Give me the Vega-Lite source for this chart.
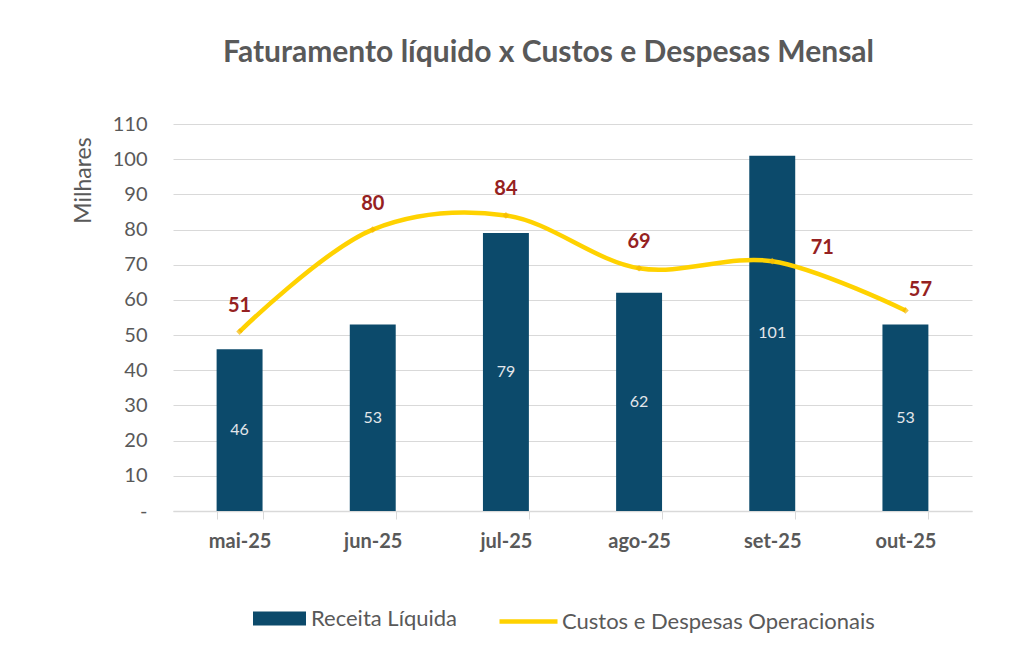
{
  "$schema": "https://vega.github.io/schema/vega-lite/v6.json",
  "width": 799,
  "height": 387,
  "autosize": {"type": "none"},
  "padding": {"left": 173, "top": 124, "right": 56, "bottom": 143},
  "background": "white",
  "config": {
    "font": "Lato",
    "view": {"stroke": null}
  },
  "title": {
    "text": "Faturamento líquido x Custos e Despesas Mensal",
    "font": "Lato",
    "fontSize": 30,
    "fontWeight": "bold",
    "color": "#595959",
    "anchor": "middle",
    "dx": -24,
    "offset": 46
  },
  "data": {
    "values": [
      {"mes": "mai-25", "receita": 46, "custos": 51},
      {"mes": "jun-25", "receita": 53, "custos": 80},
      {"mes": "jul-25", "receita": 79, "custos": 84},
      {"mes": "ago-25", "receita": 62, "custos": 69},
      {"mes": "set-25", "receita": 101, "custos": 71},
      {"mes": "out-25", "receita": 53, "custos": 57}
    ]
  },
  "encoding": {
    "x": {
      "field": "mes",
      "type": "ordinal",
      "sort": null,
      "scale": {"paddingInner": 0.655, "paddingOuter": 0.3275},
      "axis": {
        "title": null,
        "labelAngle": 0,
        "labelFontSize": 20,
        "labelFontWeight": "bold",
        "labelColor": "#595959",
        "labelPadding": 12,
        "tickBand": "extent",
        "tickSize": 8,
        "tickColor": "#D9D9D9",
        "domainColor": "#D9D9D9",
        "domainWidth": 1.5
      }
    }
  },
  "layer": [
    {
      "mark": {"type": "bar"},
      "encoding": {
        "y": {
          "field": "receita",
          "type": "quantitative",
          "scale": {"domain": [0, 110], "nice": false},
          "axis": {"title": "Milhares", "titleFontSize": 23, "titleFontWeight": "normal", "titleColor": "#595959", "titleAngle": -90, "titleX": -90, "titleY": 56, "titleAlign": "center", "titleBaseline": "middle", "values": [0, 10, 20, 30, 40, 50, 60, 70, 80, 90, 100, 110], "labelOverlap": false, "labelBound": false, "labelExpr": "datum.value == 0 ? '-' : datum.label", "labelFontSize": 20, "labelColor": "#595959", "labelPadding": 26, "ticks": false, "domain": false, "gridColor": "#D9D9D9", "gridWidth": 1.2}
        },
        "fill": {
          "datum": "Receita Líquida",
          "scale": {"range": ["#0C4A6B"]},
          "legend": {
            "title": null,
            "orient": "none",
            "legendX": 80,
            "legendY": 468,
            "symbolType": "M-1,-0.264H1V0.264H-1Z",
            "symbolSize": 2809,
            "symbolStrokeWidth": 0,
            "labelFontSize": 22,
            "labelColor": "#595959",
            "labelOffset": 5,
            "labelLimit": 0
          }
        }
      }
    },
    {
      "transform": [{"calculate": "datum.receita / 2", "as": "meio"}],
      "mark": {"type": "text", "fontSize": 16, "color": "#E3E6EA", "baseline": "middle"},
      "encoding": {
        "y": {"field": "meio", "type": "quantitative",
          "axis": {"title": "Milhares", "titleFontSize": 23, "titleFontWeight": "normal", "titleColor": "#595959", "titleAngle": -90, "titleX": -90, "titleY": 56, "titleAlign": "center", "titleBaseline": "middle", "values": [0, 10, 20, 30, 40, 50, 60, 70, 80, 90, 100, 110], "labelOverlap": false, "labelBound": false, "labelExpr": "datum.value == 0 ? '-' : datum.label", "labelFontSize": 20, "labelColor": "#595959", "labelPadding": 26, "ticks": false, "domain": false, "gridColor": "#D9D9D9", "gridWidth": 1.2}},
        "text": {"field": "receita", "type": "quantitative"}
      }
    },
    {
      "mark": {"type": "line", "interpolate": "catmull-rom", "strokeWidth": 4.5},
      "encoding": {
        "y": {"field": "custos", "type": "quantitative",
          "axis": {"title": "Milhares", "titleFontSize": 23, "titleFontWeight": "normal", "titleColor": "#595959", "titleAngle": -90, "titleX": -90, "titleY": 56, "titleAlign": "center", "titleBaseline": "middle", "values": [0, 10, 20, 30, 40, 50, 60, 70, 80, 90, 100, 110], "labelOverlap": false, "labelBound": false, "labelExpr": "datum.value == 0 ? '-' : datum.label", "labelFontSize": 20, "labelColor": "#595959", "labelPadding": 26, "ticks": false, "domain": false, "gridColor": "#D9D9D9", "gridWidth": 1.2}},
        "stroke": {
          "datum": "Custos e Despesas Operacionais",
          "scale": {"range": ["#FFD200"]},
          "legend": {
            "title": null,
            "orient": "none",
            "legendX": 324,
            "legendY": 466,
            "symbolType": "stroke",
            "symbolSize": 3364,
            "symbolStrokeWidth": 4.5,
            "labelFontSize": 22,
            "labelColor": "#595959",
            "labelOffset": 2,
            "labelLimit": 0
          }
        }
      }
    },
    {
      "mark": {"type": "point", "shape": "diamond", "filled": true, "size": 45, "color": "#F5B800"},
      "encoding": {"y": {"field": "custos", "type": "quantitative",
          "axis": {"title": "Milhares", "titleFontSize": 23, "titleFontWeight": "normal", "titleColor": "#595959", "titleAngle": -90, "titleX": -90, "titleY": 56, "titleAlign": "center", "titleBaseline": "middle", "values": [0, 10, 20, 30, 40, 50, 60, 70, 80, 90, 100, 110], "labelOverlap": false, "labelBound": false, "labelExpr": "datum.value == 0 ? '-' : datum.label", "labelFontSize": 20, "labelColor": "#595959", "labelPadding": 26, "ticks": false, "domain": false, "gridColor": "#D9D9D9", "gridWidth": 1.2}}}
    },
    {
      "transform": [{"filter": "datum.mes != 'set-25' && datum.mes != 'out-25'"}],
      "mark": {"type": "text", "fontSize": 20, "fontWeight": "bold", "color": "#952121", "dy": -26},
      "encoding": {
        "y": {"field": "custos", "type": "quantitative",
          "axis": {"title": "Milhares", "titleFontSize": 23, "titleFontWeight": "normal", "titleColor": "#595959", "titleAngle": -90, "titleX": -90, "titleY": 56, "titleAlign": "center", "titleBaseline": "middle", "values": [0, 10, 20, 30, 40, 50, 60, 70, 80, 90, 100, 110], "labelOverlap": false, "labelBound": false, "labelExpr": "datum.value == 0 ? '-' : datum.label", "labelFontSize": 20, "labelColor": "#595959", "labelPadding": 26, "ticks": false, "domain": false, "gridColor": "#D9D9D9", "gridWidth": 1.2}},
        "text": {"field": "custos", "type": "quantitative"}
      }
    },
    {
      "transform": [{"filter": "datum.mes == 'out-25'"}],
      "mark": {"type": "text", "fontSize": 20, "fontWeight": "bold", "color": "#952121", "dy": -20, "dx": 15},
      "encoding": {
        "y": {"field": "custos", "type": "quantitative",
          "axis": {"title": "Milhares", "titleFontSize": 23, "titleFontWeight": "normal", "titleColor": "#595959", "titleAngle": -90, "titleX": -90, "titleY": 56, "titleAlign": "center", "titleBaseline": "middle", "values": [0, 10, 20, 30, 40, 50, 60, 70, 80, 90, 100, 110], "labelOverlap": false, "labelBound": false, "labelExpr": "datum.value == 0 ? '-' : datum.label", "labelFontSize": 20, "labelColor": "#595959", "labelPadding": 26, "ticks": false, "domain": false, "gridColor": "#D9D9D9", "gridWidth": 1.2}},
        "text": {"field": "custos", "type": "quantitative"}
      }
    },
    {
      "transform": [{"filter": "datum.mes == 'set-25'"}],
      "mark": {"type": "text", "fontSize": 20, "fontWeight": "bold", "color": "#952121", "dy": -13, "dx": 50},
      "encoding": {
        "y": {"field": "custos", "type": "quantitative",
          "axis": {"title": "Milhares", "titleFontSize": 23, "titleFontWeight": "normal", "titleColor": "#595959", "titleAngle": -90, "titleX": -90, "titleY": 56, "titleAlign": "center", "titleBaseline": "middle", "values": [0, 10, 20, 30, 40, 50, 60, 70, 80, 90, 100, 110], "labelOverlap": false, "labelBound": false, "labelExpr": "datum.value == 0 ? '-' : datum.label", "labelFontSize": 20, "labelColor": "#595959", "labelPadding": 26, "ticks": false, "domain": false, "gridColor": "#D9D9D9", "gridWidth": 1.2}},
        "text": {"field": "custos", "type": "quantitative"}
      }
    }
  ],
  "resolve": {"scale": {"fill": "independent", "stroke": "independent"}}
}
